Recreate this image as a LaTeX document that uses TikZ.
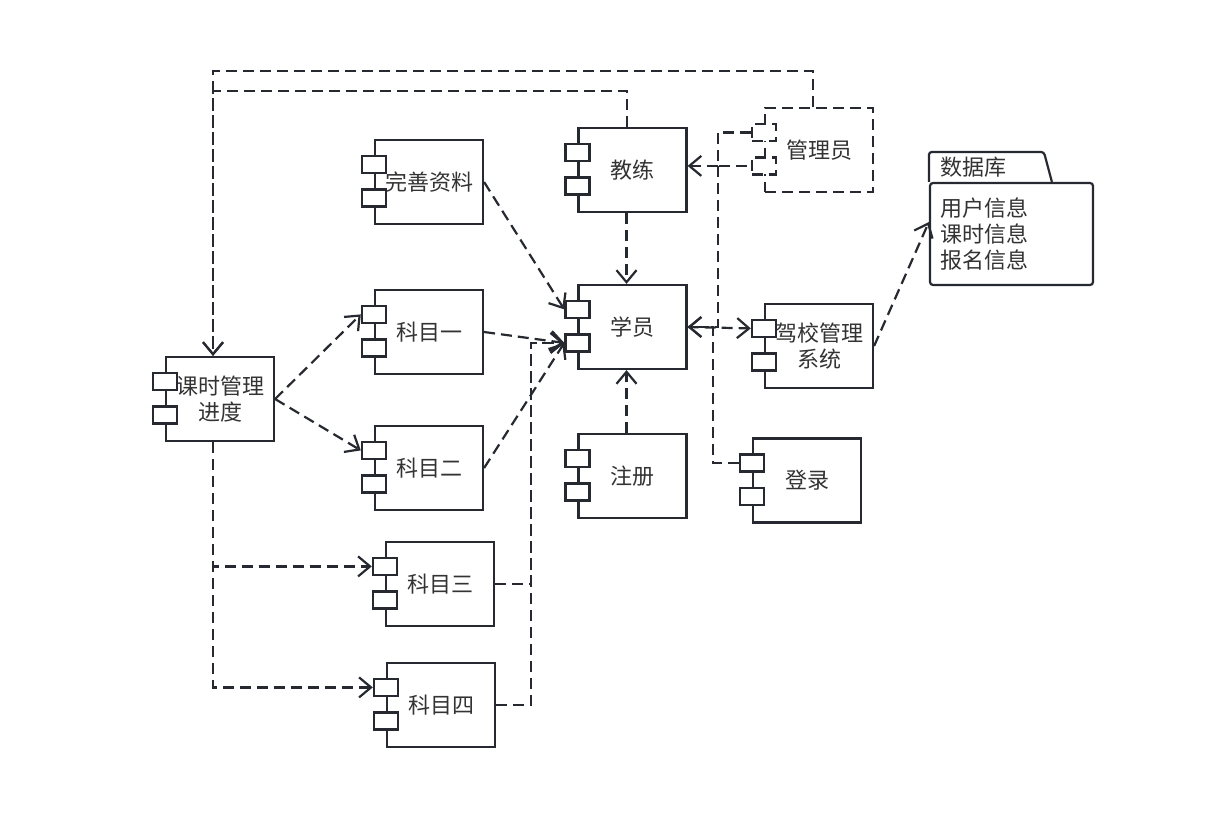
\documentclass[tikz,border=0pt]{standalone}
\usepackage{fontspec}
\setmainfont{Noto Sans CJK SC}
\usetikzlibrary{arrows.meta,calc}
\definecolor{ln}{RGB}{38,42,48}
\definecolor{tx}{RGB}{51,51,51}
\newcommand\mkcomp[4][]{%
  \node[comp,#1] (#2) at #3 {#4};
  \node[port,#1] (#2a) at ([yshift=-25.5pt]#2.north west) {};
  \node[port,#1] (#2b) at ([yshift=-59pt]#2.north west) {};
}
\begin{document}
\begin{tikzpicture}[x=1pt,y=-1pt,
  comp/.style={draw=ln,line width=2.2pt,fill=white,minimum width=108pt,minimum height=84pt,inner sep=0pt,text=tx,font=\fontsize{22}{26}\selectfont,align=center},
  port/.style={draw=ln,line width=2.2pt,fill=white,minimum width=24pt,minimum height=17pt,inner sep=0pt},
  dsh/.style={dash pattern=on 11pt off 6pt},
  conn/.style={draw=ln,line width=2.2pt,dash pattern=on 11pt off 6pt,-{Straight Barb[length=12pt,width=20pt]}},
  dbtext/.style={text=tx,font=\fontsize{22}{26}\selectfont,inner sep=0pt,align=left}]
\fill[white] (0,0) rectangle (1214,824);
\useasboundingbox (0,0) rectangle (1214,824);

\mkcomp{wsz}{(429,182)}{完善资料}
\mkcomp{jl}{(632.5,170)}{教练}
\mkcomp[dsh]{gly}{(819,150)}{管理员}
\mkcomp{xy}{(632.5,327)}{学员}
\mkcomp{jx}{(819,346)}{驾校管理\\系统}
\mkcomp{ks}{(220,399)}{课时管理\\进度}
\mkcomp{ko}{(429,332)}{科目一}
\mkcomp{kt}{(429,468)}{科目二}
\mkcomp{kh}{(440,584)}{科目三}
\mkcomp{kf}{(441,705)}{科目四}
\mkcomp{zc}{(632.5,476)}{注册}
\mkcomp{dl}{(807,480.5)}{登录}

% database package
\node[draw=ln,line width=2.2pt,rounded corners=3pt,minimum width=163pt,minimum height=102pt,inner sep=0pt] (db) at (1011.5,234) {};
\draw[ln,line width=2.2pt,rounded corners=3pt] (db.north west) -- ++(0,-30) -- ++(115,0) -- ++(8,30);
\node[dbtext,anchor=west] (dbt) at ([xshift=11pt,yshift=15pt]db.north west) {数据库};
\node[dbtext,anchor=west] (dbc) at ([xshift=11pt]db.west) {用户信息\\课时信息\\报名信息};

% connectors
\draw[conn] ([xshift=-6pt]gly.north) -- ++(0,-36) -| ([xshift=-7pt]ks.north);
\draw[conn] ([xshift=-5.5pt]jl.north) -- ++(0,-36) -| ([xshift=-7pt]ks.north);
\draw[draw=ln,line width=2.2pt,dsh] (glya.west) -- ++(-33,0) |- (glyb.west);
\draw[conn] ([xshift=-33pt]glyb.west) -- (glyb.west -| jl.east);
\draw[conn] ([xshift=-33pt]glyb.west) |- (xy.east);
\draw[conn] (dla.west) -- ++(-26,0) |- (xy.east);
\draw[conn] (xy.east) -- (jxa.west);
\draw[conn] ([xshift=-6pt]jl.south) -- ([xshift=-6pt]xy.north);
\draw[conn] ([xshift=-6pt]zc.north) -- ([xshift=-6pt]xy.south);
\draw[conn] (wsz.east) -- (xya.west);
\draw[conn] (ko.east) -- (xyb.west);
\draw[conn] (kt.east) -- (xyb.west);
\draw[conn] (kh.east) -- ++(36,0) |- (xyb.west);
\draw[conn] (kf.east) -- ++(35,0) |- (xyb.west);
\draw[conn] (ks.east) -- (koa.west);
\draw[conn] (ks.east) -- (kta.west);
\draw[conn] ([xshift=-7pt]ks.south) |- (kha.west);
\draw[conn] ([xshift=-7pt]ks.south) |- (kfa.west);
\draw[conn] (jx.east) -- ([yshift=12pt]db.west);
\end{tikzpicture}
\end{document}
